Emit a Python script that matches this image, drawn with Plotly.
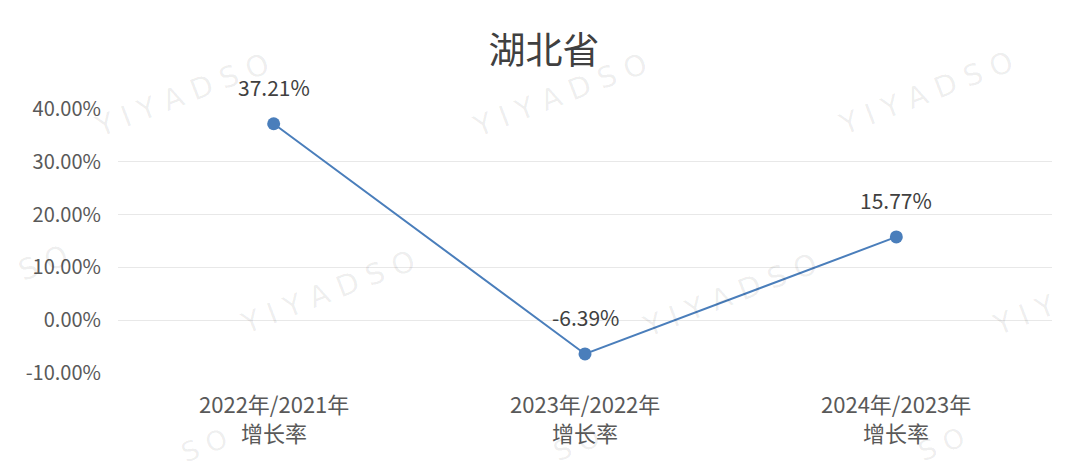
import plotly.graph_objects as go

line1_labels = ["2022年/2021年", "2023年/2022年", "2024年/2023年"]
line2_labels = ["增长率", "增长率", "增长率"]
values = [37.21, -6.39, 15.77]
value_labels = ["37.21%", "-6.39%", "15.77%"]
tick_vals = [-10, 0, 10, 20, 30, 40]
tick_text = ["-10.00%", "0.00%", "10.00%", "20.00%", "30.00%", "40.00%"]
title_text = "湖北省"
watermark = "Y I Y A D S O"

FONT = "Noto Sans CJK SC, Open Sans, sans-serif"
BLUE = "#4a7ebb"

# page has an 8px body margin; screen coords -> plot paper coords
PX0, PX1, PY0, PY1 = 118, 1052, 109, 373


def px(sx):
    return (sx - PX0) / (PX1 - PX0)


def py(sy):
    return (PY1 - sy) / (PY1 - PY0)


xs = list(range(len(values)))

fig = go.Figure()
fig.add_trace(go.Scatter(
    x=xs, y=values, mode="lines+markers",
    line=dict(color=BLUE, width=2),
    marker=dict(color=BLUE, size=13),
    cliponaxis=False, hoverinfo="skip",
))

# data labels
for x, v, t in zip(xs, values, value_labels):
    fig.add_annotation(x=x, y=v, text=t, showarrow=False, yshift=37,
                       xanchor="center", yanchor="middle",
                       font=dict(size=21, color="#404040", family=FONT))

# category labels (two lines)
for x, a, b in zip(xs, line1_labels, line2_labels):
    fig.add_annotation(x=x, y=py(403), xref="x", yref="paper", text=a, showarrow=False,
                       xanchor="center", yanchor="middle",
                       font=dict(size=22, color="#595959", family=FONT))
    fig.add_annotation(x=x, y=py(432), xref="x", yref="paper", text=b, showarrow=False,
                       xanchor="center", yanchor="middle",
                       font=dict(size=22, color="#595959", family=FONT))

# faint watermarks (full ones, then the fragments visible at the edges)
wm_items = [(watermark, 182, 95, 29), (watermark, 560, 95, 29), (watermark, 926, 93, 29),
            (watermark, 328, 292, 29), (watermark, 730, 295, 29),
            ("S O", 43, 263, 29), ("Y I Y", 1024, 315, 29),
            ("S O", 204, 446, 27), ("S O", 576, 444, 27), ("S O", 941, 444, 27)]
for (txt, sx, sy, fs) in wm_items:
    fig.add_annotation(x=px(sx), y=py(sy), xref="paper", yref="paper",
                       text=txt, showarrow=False, textangle=-21,
                       font=dict(size=fs, color="rgba(0,0,0,0.07)", family="DejaVu Sans"),
                       xanchor="center", yanchor="middle")

# thin border at the right edge of the image
fig.add_shape(type="line", xref="paper", yref="paper",
              x0=px(1077), x1=px(1077), y0=py(20), y1=py(480),
              line=dict(color="#dddddd", width=1))

fig.update_layout(
    width=1072, height=463,
    paper_bgcolor="white", plot_bgcolor="white",
    margin=dict(l=110, r=28, t=101, b=98),
    showlegend=False,
    title=dict(text=title_text, x=0.5, xanchor="center", y=1 - 43 / 463, yanchor="middle",
               font=dict(size=37, color="#404040", family=FONT)),
    xaxis=dict(range=[-0.5, 2.5], showticklabels=False,
               showgrid=False, zeroline=False, showline=False, ticks="", fixedrange=True),
    yaxis=dict(range=[-10, 40], tickmode="array", tickvals=tick_vals, ticktext=tick_text,
               showgrid=True, gridcolor="#e8e8e8", gridwidth=1, zeroline=False,
               showline=False, ticks="", ticklabelstandoff=16,
               tickfont=dict(size=20, color="#595959", family=FONT), fixedrange=True),
)

fig.write_html("out.html")
